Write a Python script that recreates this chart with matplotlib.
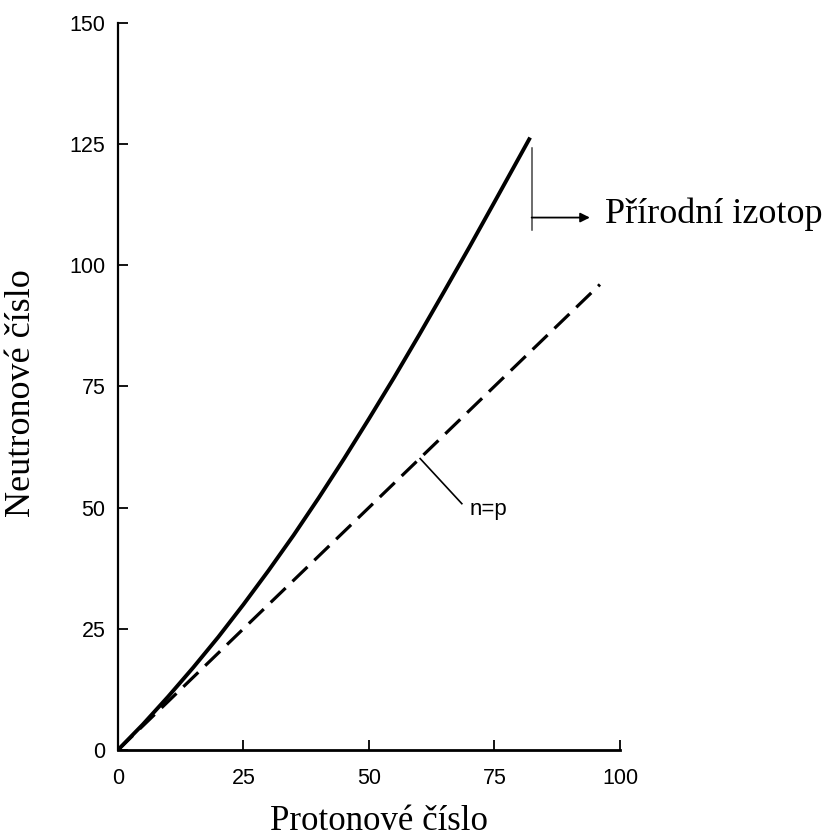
import numpy as np
import matplotlib.pyplot as plt

# Hodnoty
proton = [0, 5, 10, 15, 20, 25, 30, 35, 40, 45, 50, 55, 60, 65, 70, 75, 82.1]
neutron = [0, 5.3, 11, 17, 23.3, 30, 37, 44.3, 52, 60, 68.3, 76.8, 85.6,
           94.6, 103.7, 113.0, 126.3]
np_line_x = [0, 96]
np_line_y = [0, 96]
xticks = [0, 25, 50, 75, 100]
yticks = [0, 25, 50, 75, 100, 125, 150]

serif = ['Liberation Serif', 'DejaVu Serif']
sans = ['Liberation Sans', 'DejaVu Sans']

fig = plt.figure(figsize=(8.3, 8.38), dpi=100)
ax = fig.add_axes([0.142, 0.105, 0.605, 0.868])

ax.plot(proton, neutron, color='black', lw=2.8, solid_capstyle='butt')
ax.plot(np_line_x, np_line_y, color='black', lw=2.3, dashes=(6.5, 3))

# popisky
ax.plot([82.4, 82.4], [107.3, 124.2], color='#444444', lw=1.1)
ax.annotate('', xy=(94, 109.8), xytext=(82.4, 109.8),
            arrowprops=dict(arrowstyle='-|>', color='black', lw=1.3,
                            mutation_scale=14, shrinkA=0, shrinkB=0))
ax.text(97, 110.5, 'Přírodní izotop', family=serif, fontsize=26,
        va='center', ha='left', clip_on=False)

ax.plot([60.2, 68.5], [60.1, 50.8], color='black', lw=1.2)
ax.text(70, 49.5, 'n=p', family=sans, fontsize=16, va='center', ha='left')

ax.set_xlim(0, 100)
ax.set_ylim(0, 150)
ax.set_xticks(xticks)
ax.set_yticks(yticks)
ax.spines['top'].set_visible(False)
ax.spines['right'].set_visible(False)
ax.spines['left'].set_linewidth(1.6)
ax.spines['bottom'].set_linewidth(2.0)
ax.tick_params(direction='in', length=7, width=1.3, labelsize=15.5)
ax.tick_params(axis='x', pad=13)
ax.tick_params(axis='y', pad=9)
for lab in ax.get_xticklabels() + ax.get_yticklabels():
    lab.set_family(sans)

ax.set_xlabel('Protonové číslo', family=serif, fontsize=25)
ax.set_ylabel('Neutronové číslo', family=serif, fontsize=26)
ax.xaxis.set_label_coords(0.52, -0.075)
ax.yaxis.set_label_coords(-0.16, 0.49)

fig.savefig('out.png', dpi=100)
